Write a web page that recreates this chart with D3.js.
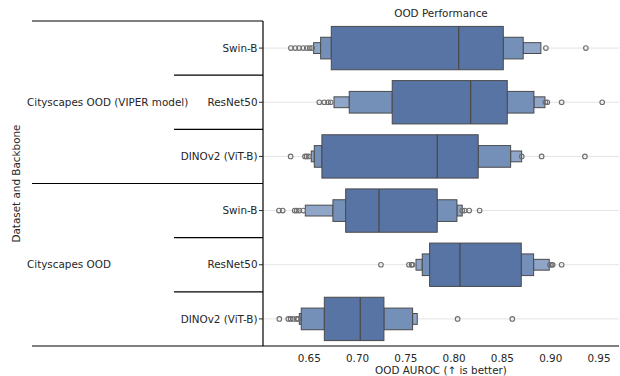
<!DOCTYPE html>
<html>
<head>
<meta charset="utf-8">
<script src="https://cdn.jsdelivr.net/npm/d3@7"></script>
<style>
  html, body { margin: 0; padding: 0; background: #fff; }
  svg text { font-family: "DejaVu Sans", sans-serif; fill: #262626; }
</style>
</head>
<body>
<svg id="chart" width="620" height="376"></svg>
<script>
// Backbones evaluated on each dataset (rows top to bottom)
const groups = ["Cityscapes OOD (VIPER model)", "Cityscapes OOD"];
const backbones = ["Swin-B", "ResNet50", "DINOv2 (ViT-B)"];
const rowGroup = [0, 0, 0, 1, 1, 1];
const rowBackbone = [0, 1, 2, 0, 1, 2];

// Letter values per row: medians, then lower / upper edges of each level (inner box first)
const medians = [0.8047, 0.8171, 0.7825, 0.7222, 0.8060, 0.7028];
const lowerValues = [
  [0.6728, 0.6618, 0.6545],
  [0.7359, 0.6914, 0.6756],
  [0.6631, 0.6552, 0.6521],
  [0.6877, 0.6745, 0.6459],
  [0.7746, 0.7670, 0.7605],
  [0.6656, 0.6417, 0.6397]
];
const upperValues = [
  [0.8509, 0.8715, 0.8898],
  [0.8550, 0.8826, 0.8940],
  [0.8249, 0.8585, 0.8699],
  [0.7825, 0.8029, 0.8084],
  [0.8695, 0.8823, 0.8985],
  [0.7273, 0.7570, 0.7618]
];
// Points outside the outermost level
const outliers = [
  [0.6310, 0.6355, 0.6395, 0.6437, 0.6475, 0.6505, 0.6530, 0.8950, 0.9364],
  [0.6604, 0.6655, 0.6695, 0.6722, 0.8945, 0.8965, 0.9113, 0.9533],
  [0.6307, 0.6456, 0.6473, 0.6497, 0.8700, 0.8906, 0.9354],
  [0.6186, 0.6225, 0.6349, 0.6370, 0.6397, 0.6438, 0.8084, 0.8109, 0.8156, 0.8264],
  [0.7242, 0.7532, 0.7560, 0.7570, 0.8992, 0.9010, 0.9020, 0.9113],
  [0.6190, 0.6283, 0.6307, 0.6334, 0.6370, 0.6386, 0.8036, 0.8602]
];
const xTicks = [0.65, 0.70, 0.75, 0.80, 0.85, 0.90, 0.95];

const title = "OOD Performance";
const xTitle = "OOD AUROC (\u2191 is better)";
const yTitle = "Dataset and Backbone";

// Level fills, darkest for the central box
const levelColors = ["#5874a4", "#7590b8", "#8fa6c8"];
const edgeColor = "#4a4a4a";
const fontSize = 10.4;

const svg = d3.select("#chart");
const plot = { left: 263, right: 619, top: 21, bottom: 346 };

const x = d3.scaleLinear().domain([0.6021, 0.9707]).range([plot.left, plot.right]);
const y = d3.scaleBand().domain(d3.range(medians.length)).range([plot.top, plot.bottom]).padding(0);
const bw = y.bandwidth();
const boxH = bw * 0.8;
const cy = i => y(i) + bw / 2;

// Horizontal guide lines through each row
svg.append("g").selectAll("line").data(d3.range(medians.length)).join("line")
  .attr("x1", plot.left).attr("x2", plot.right)
  .attr("y1", cy).attr("y2", cy)
  .attr("stroke", "#e3e3e3").attr("stroke-width", 1);

// Boxen levels, drawn outermost first
const boxes = svg.append("g");
medians.forEach((m, i) => {
  const levels = lowerValues[i].length;
  for (let k = levels - 1; k >= 0; k--) {
    const h = boxH * Math.pow(0.5, k);
    const lo = lowerValues[i][k], hi = upperValues[i][k];
    const inner = k > 0 ? [lowerValues[i][k - 1], upperValues[i][k - 1]] : null;
    // Outer levels are two side pieces flanking the next inner level
    const pieces = inner ? [[lo, inner[0]], [inner[1], hi]] : [[lo, hi]];
    pieces.forEach(([a, b]) => {
      boxes.append("rect")
        .attr("x", x(a)).attr("width", Math.max(0, x(b) - x(a)))
        .attr("y", cy(i) - h / 2).attr("height", h)
        .attr("fill", levelColors[k])
        .attr("stroke", edgeColor).attr("stroke-width", 1);
    });
  }
  boxes.append("line")
    .attr("x1", x(m)).attr("x2", x(m))
    .attr("y1", cy(i) - boxH / 2).attr("y2", cy(i) + boxH / 2)
    .attr("stroke", edgeColor).attr("stroke-width", 1.3);
});

// Outlier points
const pts = svg.append("g");
outliers.forEach((vals, i) => {
  pts.selectAll(null).data(vals).join("circle")
    .attr("cx", d => x(d)).attr("cy", cy(i)).attr("r", 2.3)
    .attr("fill", "none").attr("stroke", "#6e6e6e").attr("stroke-width", 1.1);
});

// Spines
svg.append("line").attr("x1", plot.left).attr("x2", plot.left)
  .attr("y1", plot.top).attr("y2", plot.bottom).attr("stroke", "#000").attr("stroke-width", 1.2);
svg.append("line").attr("x1", 32).attr("x2", plot.right)
  .attr("y1", plot.bottom).attr("y2", plot.bottom).attr("stroke", "#000").attr("stroke-width", 1.2);

// Row separators in the label area: full width between datasets, short between backbones
d3.range(medians.length).forEach(i => {
  const isGroupStart = i === 0 || rowGroup[i] !== rowGroup[i - 1];
  svg.append("line")
    .attr("x1", isGroupStart ? 32 : 174).attr("x2", plot.left)
    .attr("y1", y(i)).attr("y2", y(i))
    .attr("stroke", "#000").attr("stroke-width", 1.2);
});

// Y tick marks and backbone labels
d3.range(medians.length).forEach(i => {
  svg.append("line").attr("x1", plot.left - 4).attr("x2", plot.left)
    .attr("y1", cy(i)).attr("y2", cy(i)).attr("stroke", "#262626").attr("stroke-width", 1);
  svg.append("text").attr("x", plot.left - 5.5).attr("y", cy(i))
    .attr("dy", "0.35em").attr("text-anchor", "end").attr("font-size", fontSize)
    .text(backbones[rowBackbone[i]]);
});

// Dataset labels centred on each group
groups.forEach((g, gi) => {
  const rows = d3.range(medians.length).filter(i => rowGroup[i] === gi);
  const mid = d3.mean(rows, cy);
  svg.append("text").attr("x", 27).attr("y", mid).attr("dy", "0.35em")
    .attr("font-size", fontSize).text(g);
});

// X tick labels (no tick marks)
svg.append("g").selectAll("text").data(xTicks).join("text")
  .attr("x", d => x(d)).attr("y", 358.5).attr("dy", "0.35em")
  .attr("text-anchor", "middle").attr("font-size", fontSize)
  .text(d3.format(".2f"));

// Titles
svg.append("text").attr("x", (plot.left + plot.right) / 2).attr("y", 13).attr("dy", "0.35em")
  .attr("text-anchor", "middle").attr("font-size", fontSize).text(title);
svg.append("text").attr("x", (plot.left + plot.right) / 2).attr("y", 370).attr("dy", "0.35em")
  .attr("text-anchor", "middle").attr("font-size", fontSize).text(xTitle);
svg.append("text")
  .attr("transform", `translate(16,${(plot.top + plot.bottom) / 2}) rotate(-90)`)
  .attr("dy", "0.35em").attr("text-anchor", "middle").attr("font-size", fontSize).text(yTitle);
</script>
</body>
</html>
